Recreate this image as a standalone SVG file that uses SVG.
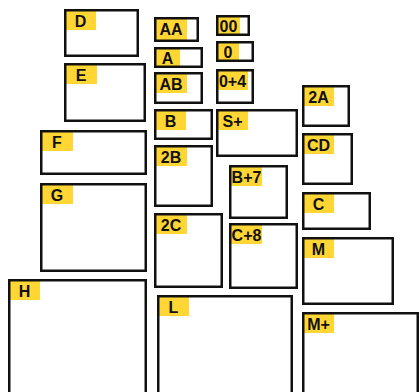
<svg xmlns="http://www.w3.org/2000/svg" width="420" height="392" viewBox="0 0 420 392">
<style>
.bx{fill:none;stroke:#111;stroke-width:2.5}
.lb{fill:#FFD633}
.t{font-family:"Liberation Sans",Arial,sans-serif;font-weight:700;font-size:16px;fill:#111;text-anchor:middle}
</style>
<rect width="420" height="392" fill="#fff"/>
<g id="connectors"/>
<g id="D"><rect class="lb" x="65" y="10" width="31" height="20"/><rect class="bx" x="65.25" y="10.25" width="72.5" height="45.5"/><text class="t" x="80.5" y="26.5">D</text></g>
<g id="E"><rect class="lb" x="65" y="64" width="32" height="20"/><rect class="bx" x="65.25" y="64.25" width="79.5" height="56.5"/><text class="t" x="81" y="80.5">E</text></g>
<g id="AA"><rect class="lb" x="155" y="18" width="32" height="22"/><rect class="bx" x="155.25" y="18.25" width="42.5" height="22.5"/><text class="t" x="171" y="34.5">AA</text></g>
<g id="n00"><rect class="lb" x="217" y="16" width="23" height="19"/><rect class="bx" x="217.25" y="16.25" width="31.5" height="18.5"/><text class="t" x="228.5" y="32">00</text></g>
<g id="A"><rect class="lb" x="155" y="48" width="25" height="19"/><rect class="bx" x="155.25" y="48.25" width="46.5" height="18.5"/><text class="t" x="167.5" y="64">A</text></g>
<g id="n0"><rect class="lb" x="217" y="42" width="22" height="19"/><rect class="bx" x="217.25" y="42.25" width="35.5" height="18.5"/><text class="t" x="228" y="58">0</text></g>
<g id="AB"><rect class="lb" x="155" y="73" width="32" height="20"/><rect class="bx" x="155.25" y="73.25" width="46.5" height="29.5"/><text class="t" x="171" y="89.5">AB</text></g>
<g id="n0p4"><rect class="lb" x="217" y="70" width="31" height="20"/><rect class="bx" x="217.25" y="70.25" width="35.5" height="32.5"/><text class="t" x="232.5" y="86.5">0+4</text></g>
<g id="B"><rect class="lb" x="155" y="110" width="31" height="20"/><rect class="bx" x="155.25" y="110.25" width="56.5" height="28.5"/><text class="t" x="170.5" y="126.5">B</text></g>
<g id="Splus"><rect class="lb" x="217" y="110" width="31" height="20"/><rect class="bx" x="217.25" y="110.25" width="79.5" height="45.5"/><text class="t" x="232.5" y="126.5">S+</text></g>
<g id="n2A"><rect class="lb" x="303" y="86" width="31" height="20"/><rect class="bx" x="303.25" y="86.25" width="45.5" height="39.5"/><text class="t" x="318.5" y="102.5">2A</text></g>
<g id="F"><rect class="lb" x="41" y="131" width="32" height="20"/><rect class="bx" x="41.25" y="131.25" width="104.5" height="42.5"/><text class="t" x="57" y="147.5">F</text></g>
<g id="n2B"><rect class="lb" x="155" y="146" width="32" height="20"/><rect class="bx" x="155.25" y="146.25" width="56.5" height="59.5"/><text class="t" x="171" y="162.5">2B</text></g>
<g id="CD"><rect class="lb" x="303" y="134" width="31" height="20"/><rect class="bx" x="303.25" y="134.25" width="48.5" height="49.5"/><text class="t" x="318.5" y="150.5">CD</text></g>
<g id="Bp7"><rect class="lb" x="230" y="166" width="32" height="20"/><rect class="bx" x="230.25" y="166.25" width="56.5" height="51.5"/><text class="t" x="246.5" y="182.5">B+7</text></g>
<g id="G"><rect class="lb" x="41" y="184" width="32" height="20"/><rect class="bx" x="41.25" y="184.25" width="104.5" height="86.5"/><text class="t" x="57" y="200.5">G</text></g>
<g id="C"><rect class="lb" x="303" y="193" width="31" height="20"/><rect class="bx" x="303.25" y="193.25" width="66.5" height="35.5"/><text class="t" x="318.5" y="209.5">C</text></g>
<g id="n2C"><rect class="lb" x="155" y="214" width="32" height="20"/><rect class="bx" x="155.25" y="214.25" width="66.5" height="72.5"/><text class="t" x="171" y="230.5">2C</text></g>
<g id="Cp8"><rect class="lb" x="230" y="224" width="32" height="20"/><rect class="bx" x="230.25" y="224.25" width="66.5" height="63.5"/><text class="t" x="246.5" y="240.5">C+8</text></g>
<g id="M"><rect class="lb" x="303" y="238" width="31" height="20"/><rect class="bx" x="303.25" y="238.25" width="89.5" height="65.5"/><text class="t" x="318.5" y="254.5">M</text></g>
<g id="H"><rect class="lb" x="9" y="280" width="31" height="20"/><rect class="bx" x="9.25" y="280.25" width="136.5" height="130"/><text class="t" x="24.5" y="296.5">H</text></g>
<g id="L"><rect class="lb" x="158" y="296" width="31" height="20"/><rect class="bx" x="158.25" y="296.25" width="133.5" height="120"/><text class="t" x="173.5" y="312.5">L</text></g>
<g id="Mplus"><rect class="lb" x="303" y="313" width="31" height="20"/><rect class="bx" x="303.25" y="313.25" width="114.5" height="100"/><text class="t" x="318.5" y="329.5">M+</text></g>
</svg>
